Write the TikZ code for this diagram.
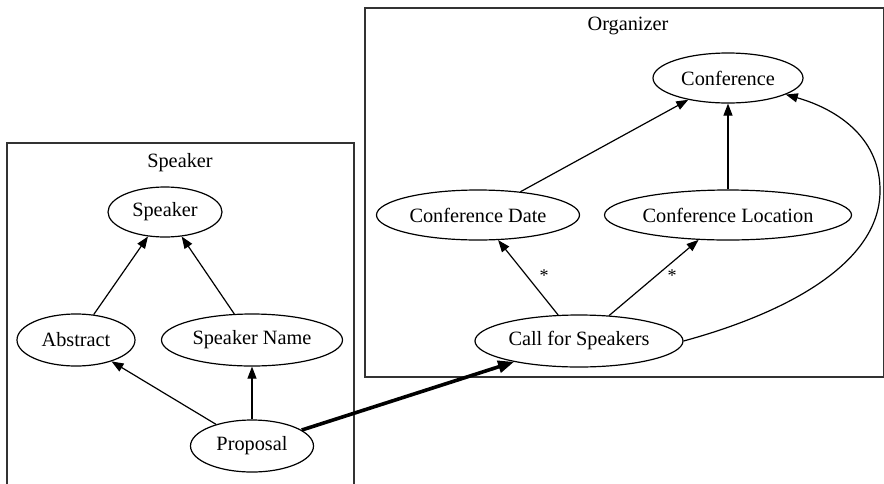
\documentclass[tikz,border=0pt]{standalone}
\usepackage{fontspec}
\setmainfont{Liberation Serif}
\usetikzlibrary{shapes.geometric,arrows.meta}
\begin{document}
\begin{tikzpicture}[x=1pt,y=-1pt,
  every node/.style={font=\fontsize{20.3}{24}\selectfont},
  ent/.style={draw,ellipse,line width=1.2pt,inner sep=0pt},
  arr/.style={line width=1.2pt,-{Triangle[length=12pt,width=9pt]}},
  bigarr/.style={line width=3.6pt,-{Triangle[length=16pt,width=12pt]}},
  frame/.style={draw=black!80,line width=1.6pt},
  star/.style={font=\fontsize{18}{20}\selectfont}]
\useasboundingbox (0,0) rectangle (884,483);
% cluster frames
\draw[frame] (7,486) -- (7,143) -- (354,143) -- (354,486);
\draw[frame] (365,8) rectangle (883.3,377);
\node (tspk) at (180,163) {Speaker};
\node (torg) at (628,26) {Organizer};
% speaker cluster
\node[ent,minimum width=114pt,minimum height=50pt] (spk) at (165,212) {Speaker};
\node[ent,minimum width=118pt,minimum height=52pt] (abs) at (76,340) {Abstract};
\node[ent,minimum width=181pt,minimum height=52pt] (spn) at (252,340) {Speaker Name};
\node[ent,minimum width=123pt,minimum height=52pt] (prop) at (252,446) {Proposal};
% organizer cluster
\node[ent,minimum width=150pt,minimum height=50pt] (conf) at (728,78) {Conference};
\node[ent,minimum width=203pt,minimum height=50pt] (cdate) at (478,215) {Conference Date};
\node[ent,minimum width=247pt,minimum height=50pt] (cloc) at (728,215) {Conference Location};
\node[ent,minimum width=208pt,minimum height=52pt] (cfs) at (579,341) {Call for Speakers};
% edges
\draw[arr] (abs) -- (spk);
\draw[arr] (spn) -- (spk);
\draw[arr] (prop) -- (abs);
\draw[arr] (prop) -- (spn);
\draw[bigarr] (prop) -- (cfs);
\draw[arr] (cfs) -- (cdate);
\draw[arr] (cfs) -- (cloc);
\draw[arr] (cdate) -- (conf);
\draw[arr] (cloc) -- (conf);
\draw[arr] (cfs.east) .. controls (790,312) and (879,262) .. (880,192)
  .. controls (881,140) and (840,110) .. (conf);
\node[star] (s1) at (544,276) {*};
\node[star] (s2) at (672,276) {*};
\end{tikzpicture}
\end{document}
